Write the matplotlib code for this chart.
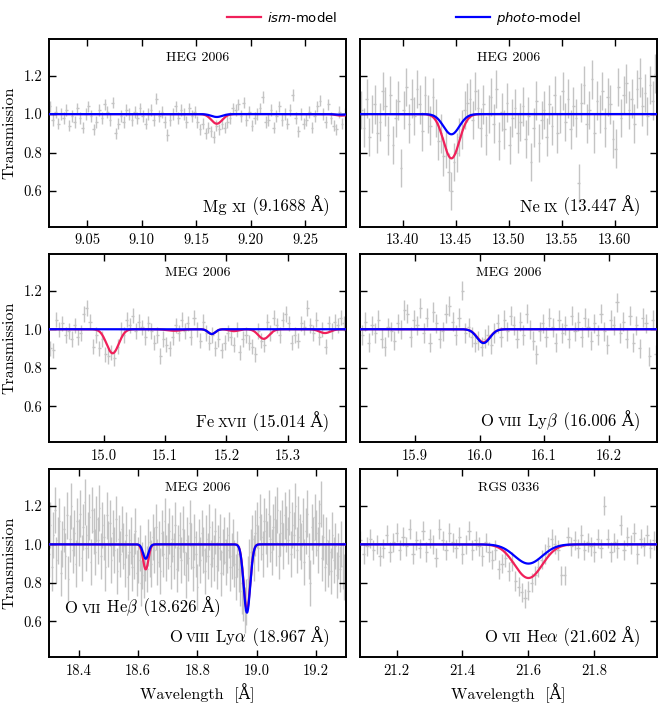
import numpy as np
import matplotlib
matplotlib.use("Agg")
import matplotlib.pyplot as plt
from matplotlib.ticker import MultipleLocator, FormatStrFormatter
from matplotlib.offsetbox import TextArea, HPacker, AnchoredOffsetbox
from matplotlib.font_manager import FontProperties
from matplotlib.lines import Line2D

plt.rcParams['font.family'] = ['cmr10', 'DejaVu Serif']
plt.rcParams['mathtext.fontset'] = 'cm'
plt.rcParams['axes.formatter.use_mathtext'] = True

# ---- data ----
titles = ["HEG 2006", "HEG 2006", "MEG 2006", "MEG 2006", "MEG 2006", "RGS 0336"]
xlims = [(9.015, 9.287), (13.36, 13.64), (14.91, 15.395), (15.815, 16.275), (18.3, 19.3), (21.09, 21.99)]
tick_step = [0.05, 0.05, 0.1, 0.1, 0.2, 0.2]
tick_fmt = ["%.2f", "%.2f", "%.1f", "%.1f", "%.1f", "%.1f"]

# wavelength grid of each spectrum: first bin, bin width
x_start = [9.016, 13.361, 14.912, 15.818, 18.300, 21.09]
x_bin = [0.0025, 0.0025, 0.005, 0.005, 0.005, 0.01]
y_err = [0.03, 0.10, 0.04, 0.05, 0.12, 0.05]

mg11 = [1.04, 0.97, 1.01, 0.95, 1.00, 0.98, 1.02, 0.94, 0.99, 0.96,
        1.03, 0.98, 0.93, 1.00, 1.04, 0.99, 0.92, 0.96, 1.02, 0.98,
        1.05, 1.01, 0.97, 1.06, 0.90, 0.95, 0.99, 0.96, 1.02, 1.00,
        0.97, 1.01, 0.98, 1.03, 0.99, 0.95, 1.00, 1.02, 0.97, 1.08,
        0.99, 1.01, 0.96, 0.89, 0.97, 1.00, 1.04, 0.98, 1.02, 1.00,
        0.96, 1.03, 0.99, 1.01, 0.96, 0.92, 0.95, 0.90, 0.93, 0.91,
        0.88, 0.94, 0.92, 0.95, 0.93, 0.96, 0.98, 1.03, 1.02, 1.05,
        0.99, 1.06, 0.97, 1.01, 0.94, 0.98, 1.00, 1.03, 1.09, 0.96,
        0.97, 1.02, 0.93, 0.99, 1.04, 0.97, 1.00, 0.95, 1.02, 1.10,
        0.98, 0.91, 1.00, 0.95, 0.97, 1.01, 0.93, 0.99, 1.04, 1.07,
        1.00, 0.96, 1.05, 0.98, 0.94, 0.92, 1.01, 0.95, 1.00]

ne9 = [1.02, 0.93, 1.08, 0.88, 1.00, 1.05, 0.90, 0.96, 1.12, 1.04,
       0.89, 1.10, 0.84, 0.98, 1.07, 0.72, 1.02, 1.14, 0.95, 1.08,
       0.99, 1.13, 1.05, 0.91, 1.10, 1.00, 0.94, 1.09, 0.98, 0.86,
       0.90, 0.78, 0.82, 0.70, 0.60, 0.75, 0.80, 0.88, 0.92, 1.02,
       1.06, 1.08, 0.97, 1.12, 1.03, 0.93, 1.05, 0.89, 1.00, 1.09,
       0.95, 1.13, 0.86, 1.01, 0.92, 1.06, 0.84, 0.98, 1.03, 0.90,
       0.96, 1.04, 0.87, 0.99, 0.75, 0.93, 1.07, 0.85, 0.97, 1.02,
       0.88, 1.05, 0.94, 1.10, 0.90, 1.00, 1.12, 0.96, 1.08, 0.92,
       1.04, 0.98, 0.64, 1.06, 1.15, 0.95, 1.02, 1.18, 0.90, 1.07,
       1.00, 1.12, 0.93, 1.09, 1.05, 0.87, 0.82, 1.14, 0.98, 1.10,
       1.16, 1.02, 1.08, 0.95, 1.13, 1.19, 1.04, 1.11, 0.99, 1.15,
       1.07, 1.21]

fe17 = [0.90, 0.89, 1.05, 1.00, 1.03, 0.97, 0.99, 0.95, 1.02, 0.96,
        0.98, 1.08, 1.11, 1.04, 0.91, 0.97, 0.90, 0.95, 0.87, 0.86,
        0.88, 0.85, 0.91, 1.00, 0.97, 1.05, 1.02, 1.07, 0.99, 1.04,
        1.01, 0.96, 1.03, 0.99, 0.93, 0.97, 0.86, 0.95, 0.92, 0.90,
        0.96, 1.02, 0.98, 1.05, 0.99, 1.03, 0.96, 1.06, 1.00, 0.94,
        1.04, 0.98, 0.93, 0.97, 0.90, 0.95, 0.89, 0.93, 0.98, 0.96,
        0.92, 1.00, 0.88, 0.95, 0.97, 0.93, 0.91, 0.87, 0.99, 0.94,
        0.92, 1.04, 0.98, 1.06, 1.02, 0.97, 1.05, 1.08, 1.03, 0.93,
        0.97, 0.94, 1.03, 1.01, 1.11, 1.02, 0.98, 1.05, 0.96, 1.00,
        0.91, 1.03, 0.99, 1.04, 1.02, 1.06, 1.03]

o8_lyb = [0.97, 1.04, 0.93, 1.02, 0.98, 1.05, 0.95, 0.91, 1.01, 0.99,
          0.94, 1.03, 1.00, 1.10, 1.08, 0.96, 1.05, 1.02, 1.11, 0.98,
          1.06, 0.93, 1.09, 1.03, 0.95, 0.99, 1.08, 1.12, 1.04, 0.97,
          1.06, 1.20, 0.98, 1.01, 0.96, 0.93, 0.94, 0.91, 0.95, 0.97,
          0.92, 0.98, 1.03, 0.96, 1.05, 0.99, 1.07, 1.02, 0.95, 1.04,
          0.97, 1.08, 1.00, 0.94, 0.87, 0.99, 1.03, 0.96, 1.06, 1.01,
          0.93, 1.05, 0.98, 1.02, 0.95, 1.07, 0.99, 1.04, 0.96, 1.06,
          1.01, 0.94, 1.03, 0.97, 1.08, 0.99, 0.92, 1.05, 1.02, 1.14,
          0.98, 1.04, 0.95, 1.07, 0.93, 1.02, 0.90, 1.06, 1.03, 0.86,
          1.05, 0.87]

o_meg = [0.95, 1.10, 0.88, 1.05, 1.18, 0.92, 1.02, 1.12, 0.85, 1.00,
         1.08, 0.94, 1.15, 0.82, 1.03, 1.20, 0.97, 1.06, 0.90, 1.12,
         1.01, 1.16, 0.93, 1.09, 1.22, 0.98, 1.05, 1.14, 0.91, 1.18,
         1.07, 0.96, 1.13, 1.02, 1.19, 0.94, 1.10, 1.04, 0.88, 1.15,
         1.00, 1.11, 0.92, 1.06, 0.97, 1.13, 0.86, 1.03, 0.95, 1.08,
         0.99, 0.90, 1.05, 0.83, 0.96, 1.02, 0.88, 0.94, 1.07, 0.85,
         0.92, 0.98, 0.80, 0.89, 0.84, 0.93, 0.87, 1.01, 0.95, 0.90,
         1.04, 0.97, 1.09, 0.91, 1.00, 0.86, 1.06, 0.95, 1.12, 0.93,
         0.99, 1.07, 0.89, 1.03, 0.94, 1.10, 0.87, 0.98, 1.05, 0.92,
         1.08, 0.96, 0.84, 1.02, 0.93, 1.11, 0.99, 0.88, 1.04, 0.95,
         0.78, 1.01, 0.92, 1.06, 0.97, 0.86, 1.03, 0.94, 1.09, 0.90,
         1.00, 0.93, 1.07, 0.89, 0.98, 1.04, 0.85, 0.96, 1.02, 0.91,
         0.97, 1.05, 0.88, 0.94, 1.01, 0.90, 0.83, 0.95, 0.87, 0.80,
         0.76, 0.72, 0.66, 0.70, 0.82, 0.91, 0.96, 1.03, 0.93, 1.06,
         1.10, 0.98, 1.14, 1.04, 0.95, 1.12, 1.07, 1.00, 1.16, 1.03,
         0.96, 1.09, 1.13, 1.01, 1.18, 0.94, 1.06, 1.11, 0.99, 1.15,
         1.08, 1.02, 1.17, 0.95, 1.10, 1.05, 1.20, 0.97, 1.13, 1.04,
         0.99, 1.12, 0.91, 1.07, 1.16, 0.94, 0.80, 1.09, 1.02, 1.14,
         1.06, 0.97, 1.11, 1.21, 0.93, 1.04, 0.88, 1.02, 0.90, 0.96,
         0.86, 1.05, 0.92, 0.99, 0.84, 0.94, 0.87, 1.00, 0.89, 0.83]

o7_rgs = [1.02, 0.95, 0.99, 1.03, 0.97, 1.00, 0.94, 0.98, 1.05, 0.96,
          1.01, 1.06, 0.97, 1.04, 0.99, 1.08, 0.95, 1.02, 0.98, 1.07,
          0.96, 1.03, 1.00, 0.93, 1.08, 1.02, 0.97, 1.06, 1.01, 0.98,
          1.04, 0.95, 1.00, 1.07, 0.97, 1.02, 0.99, 0.94, 1.01, 0.96,
          0.92, 0.97, 0.87, 0.90, 0.93, 0.86, 0.91, 0.81, 0.78, 0.75,
          0.72, 0.76, 0.80, 0.84, 0.88, 0.92, 0.95, 0.99, 1.03, 1.00,
          0.97, 0.84, 0.84, 1.04, 0.99, 1.02, 0.98, 1.05, 0.97, 1.01,
          0.99, 0.96, 1.03, 0.98, 1.20, 1.03, 0.96, 1.01, 0.98, 1.10,
          0.97, 1.04, 1.00, 1.06, 0.95, 1.03, 0.99, 1.05, 0.98, 1.02]

spectra = [mg11, ne9, fe17, o8_lyb, o_meg, o7_rgs]

# absorption lines in each model: (centre, depth, width)
ism_lines = [
    [(9.1688, 0.050, 0.0050), (9.283, 0.008, 0.005)],
    [(13.446, 0.230, 0.0075)],
    [(15.014, 0.125, 0.0100), (15.115, 0.008, 0.012), (15.176, 0.025, 0.006),
     (15.212, 0.010, 0.008), (15.261, 0.050, 0.009), (15.361, 0.020, 0.009)],
    [(16.006, 0.068, 0.0100)],
    [(18.626, 0.130, 0.0090), (18.967, 0.340, 0.011)],
    [(21.600, 0.175, 0.0420)],
]
photo_lines = [
    [(9.1688, 0.015, 0.0050), (9.283, 0.003, 0.005)],
    [(13.446, 0.105, 0.0075)],
    [(15.176, 0.025, 0.0060)],
    [(16.006, 0.072, 0.0100)],
    [(18.626, 0.075, 0.0090), (18.967, 0.355, 0.011)],
    [(21.600, 0.100, 0.0420)],
]

# line labels: (element, ion stage in small caps, transition, wavelength)
labels = [
    [("Mg ", "XI", "", "9.1688")],
    [("Ne\u2009", "IX", "", "13.447")],
    [("Fe\u2009", "XVII", "", "15.014")],
    [("O\u2009", "VIII", r"Ly$\beta$", "16.006")],
    [("O\u2009", "VII", r"He$\beta$", "18.626"), ("O\u2009", "VIII", r"Ly$\alpha$", "18.967")],
    [("O\u2009", "VII", r"He$\alpha$", "21.602")],
]
label_pos = [
    [("lower right", (0.945, 0.055))],
    [("lower right", (0.945, 0.055))],
    [("lower right", (0.945, 0.055))],
    [("lower right", (0.945, 0.055))],
    [("lower left", (0.054, 0.206)), ("lower right", (0.945, 0.053))],
    [("lower right", (0.945, 0.055))],
]

ism_color = '#f0205a'
photo_color = '#0000ff'
data_color = '#c4c4c4'


def model(x, lines):
    t = np.ones_like(x)
    for c, d, w in lines:
        t = t - d * np.exp(-0.5 * ((x - c) / w) ** 2)
    return t


def add_label(ax, parts, loc, anchor):
    elem, stage, trans, wl = parts
    boxes = [TextArea(elem, textprops=dict(size=12)),
             TextArea(stage, textprops=dict(size=9.5))]
    if trans:
        boxes.append(TextArea(" " + trans, textprops=dict(size=12)))
    boxes.append(TextArea(" (%s Å)" % wl, textprops=dict(size=12)))
    pack = HPacker(children=boxes, align='baseline', pad=0, sep=0)
    box = AnchoredOffsetbox(loc=loc, child=pack, frameon=False, pad=0, borderpad=0,
                            bbox_to_anchor=anchor, bbox_transform=ax.transAxes)
    ax.add_artist(box)


fig, axes = plt.subplots(3, 2, sharey=True, figsize=(6.65, 7.04), dpi=100)
fig.subplots_adjust(left=0.0737, right=0.988, top=0.9446, bottom=0.0668,
                    wspace=0.049, hspace=0.146)

for i, ax in enumerate(axes.flat):
    y = np.array(spectra[i])
    x = x_start[i] + x_bin[i] * np.arange(len(y))
    ax.errorbar(x, y, yerr=y_err[i], xerr=x_bin[i] / 2, fmt='none',
                ecolor=data_color, elinewidth=1.0, capsize=0, zorder=1)
    xf = np.linspace(xlims[i][0], xlims[i][1], 2000)
    ax.plot(xf, model(xf, ism_lines[i]), color=ism_color, lw=1.6, zorder=3)
    ax.plot(xf, model(xf, photo_lines[i]), color=photo_color, lw=1.6, zorder=4)

    ax.set_xlim(*xlims[i])
    ax.set_ylim(0.415, 1.39)
    ax.xaxis.set_major_locator(MultipleLocator(tick_step[i]))
    ax.xaxis.set_major_formatter(FormatStrFormatter(tick_fmt[i]))
    ax.yaxis.set_major_locator(MultipleLocator(0.2))
    ax.yaxis.set_major_formatter(FormatStrFormatter("%.1f"))
    ax.tick_params(direction='in', top=True, right=True, length=5, width=1,
                   labelsize=10.5, pad=5)
    for s in ax.spines.values():
        s.set_linewidth(1.4)

    ax.text(0.5, 0.9, titles[i], transform=ax.transAxes, ha='center', va='center',
            fontsize=10)
    for parts, (loc, anchor) in zip(labels[i], label_pos[i]):
        add_label(ax, parts, loc, anchor)

    if i % 2 == 0:
        ax.set_ylabel("Transmission", fontsize=11.5, labelpad=5)
    if i >= 4:
        ax.set_xlabel("Wavelength  [Å]", fontsize=11.5)

handles = [Line2D([], [], color=ism_color, lw=1.6),
           Line2D([], [], color=photo_color, lw=1.6)]
leg_font = FontProperties(family='DejaVu Sans', size=9.5, math_fontfamily='dejavusans')
fig.legend(handles, [r"$\mathit{ism}$-model", r"$\mathit{photo}$-model"],
           loc='center', bbox_to_anchor=(0.607, 0.974), ncol=2, frameon=False,
           prop=leg_font, handlelength=2.6, handletextpad=0.45, columnspacing=9.0)

fig.savefig("out.png", dpi=100)
